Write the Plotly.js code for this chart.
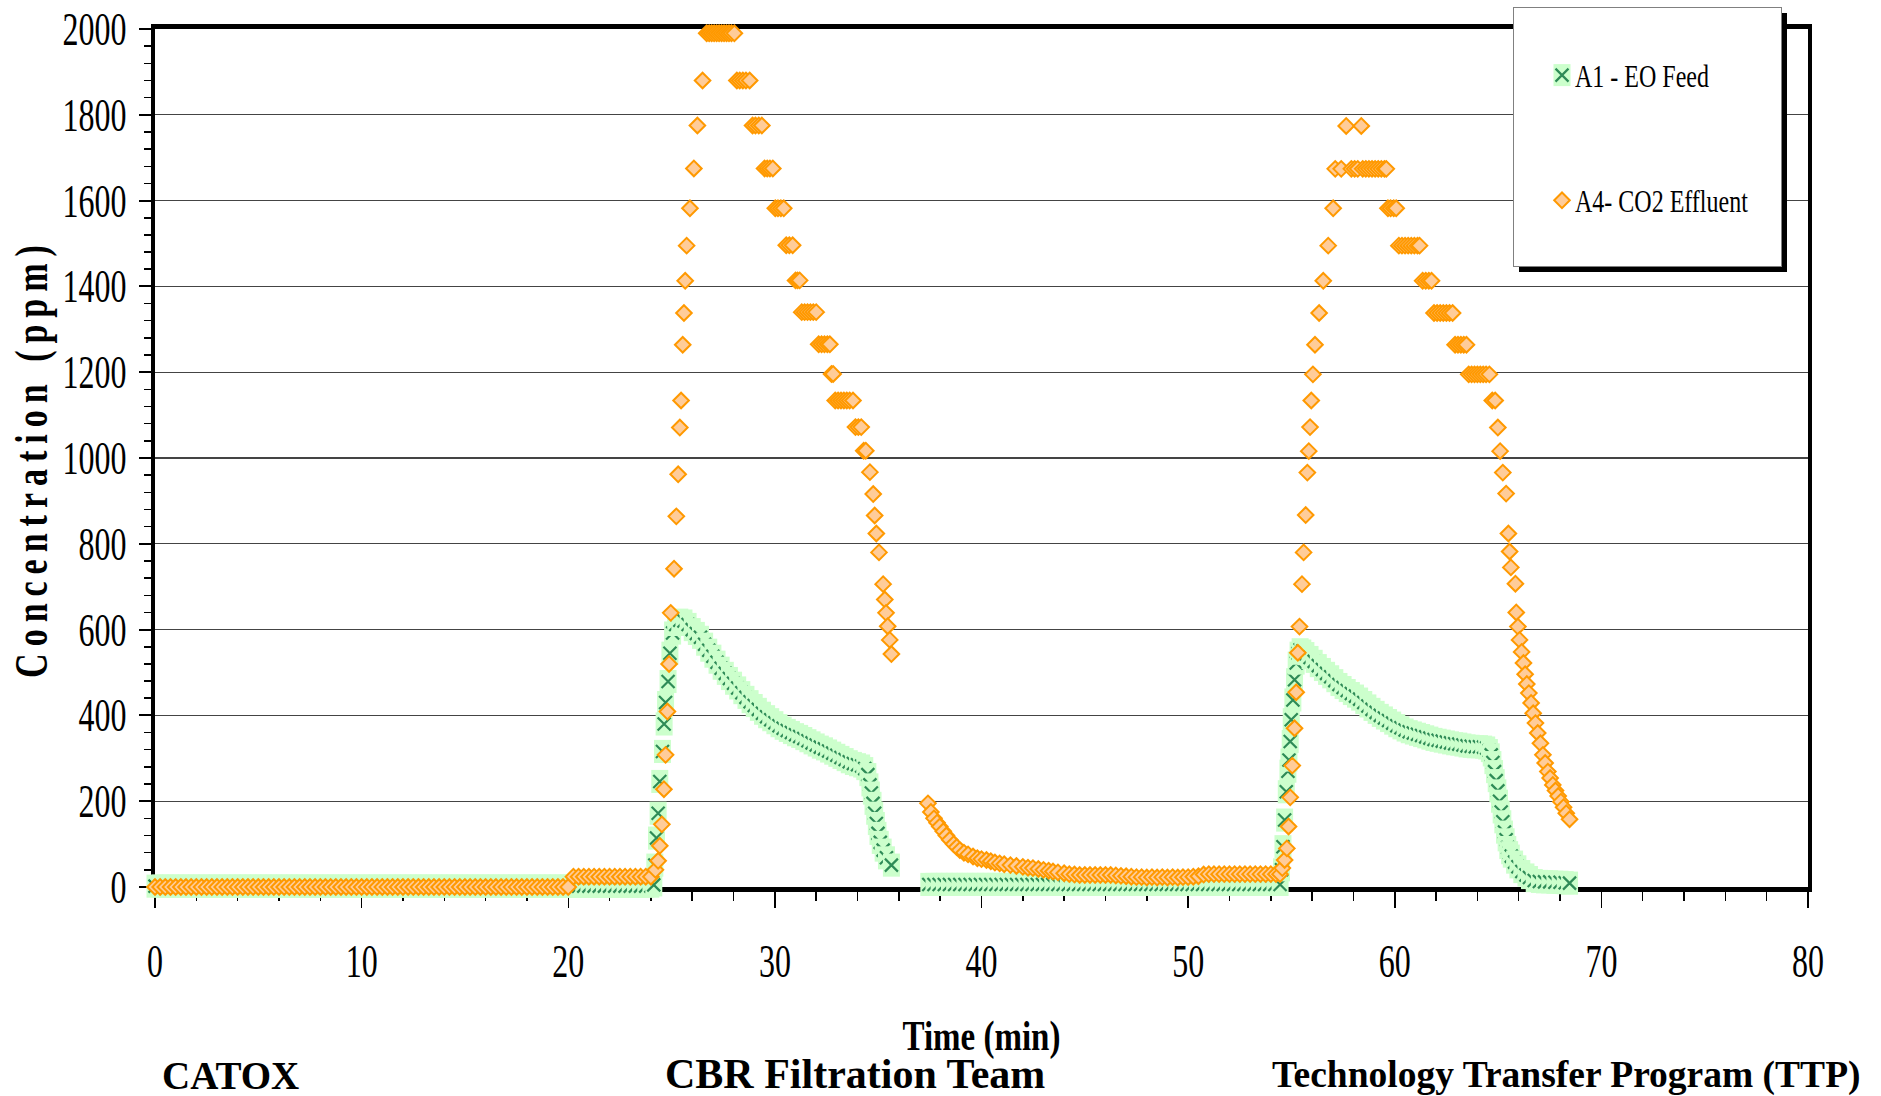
<!DOCTYPE html>
<html>
<head>
<meta charset="utf-8">
<script src="https://cdn.plot.ly/plotly-3.0.1.min.js"></script>
<style>
html,body{margin:0;padding:0;background:#fff;}
#chart{width:1881px;height:1096px;}
</style>
</head>
<body>
<div id="chart"></div>
<script>
// ---------------- DATA ----------------
const xTickVals = [0,10,20,30,40,50,60,70,80];
const xTickText = ['0','10','20','30','40','50','60','70','80'];
const yTickVals = [0,200,400,600,800,1000,1200,1400,1600,1800,2000];
const yTickText = ['0','200','400','600','800','1000','1200','1400','1600','1800','2000'];

// A1 - EO Feed
const a1BaseTime = [0,0.25,0.5,0.75,1,1.25,1.5,1.75,2,2.25,2.5,2.75,3,3.25,3.5,3.75,4,4.25,4.5,4.75,
 5,5.25,5.5,5.75,6,6.25,6.5,6.75,7,7.25,7.5,7.75,8,8.25,8.5,8.75,9,9.25,9.5,9.75,
 10,10.25,10.5,10.75,11,11.25,11.5,11.75,12,12.25,12.5,12.75,13,13.25,13.5,13.75,14,14.25,14.5,14.75,
 15,15.25,15.5,15.75,16,16.25,16.5,16.75,17,17.25,17.5,17.75,18,18.25,18.5,18.75,19,19.25,19.5,19.75,
 20,20.25,20.5,20.75,21,21.25,21.5,21.75,22,22.25,22.5,22.75,23,23.25,23.5,23.75,24];
const a1BasePpm = [2,2,2,2,2,2,2,2,2,2,2,2,2,2,2,2,2,2,2,2,
 2,2,2,2,2,2,2,2,2,2,2,2,2,2,2,2,2,2,2,2,
 2,2,2,2,2,2,2,2,2,2,2,2,2,2,2,2,2,2,2,2,
 2,2,2,2,2,2,2,2,2,2,2,2,2,2,2,2,2,2,2,2,
 2,2,2,2,2,2,2,2,2,2,2,2,2,2,2,2,2];
const a1Peak1Time = [24.14,24.19,24.27,24.35,24.43,24.56,24.64,24.71,24.83,24.92,25.05,
 25.20,25.40,25.60,25.80,26.00,26.20,26.40,26.60,26.80,27.00,
 27.20,27.40,27.60,27.80,28.00,28.20,28.40,28.60,28.80,29.00,
 29.20,29.40,29.60,29.80,30.00,30.20,30.40,30.60,30.80,31.00,
 31.20,31.40,31.60,31.80,32.00,32.20,32.40,32.60,32.80,33.00,
 33.20,33.40,33.60,33.80,34.00,34.20,34.35,
 34.50,34.60,34.67,34.75,34.83,34.91,34.99,35.10,35.24,35.40,35.64];
const a1Peak1Ppm = [5,51,114,172,246,316,380,430,479,545,592,
 612,622,620,612,600,591,582,566,552,538,
 524,510,498,486,475,464,453,442,432,423,
 414,405,397,390,383,376,370,365,360,355,
 351,346,341,336,331,326,322,317,312,307,
 302,297,292,288,285,282,276,
 262,238,219,195,172,148,125,104,86,68,51];
const a1MidTime = [37.45,37.7,37.95,38.2,38.45,38.7,38.95,39.2,39.45,39.7,39.95,40.2,40.45,40.7,40.95,41.2,41.45,41.7,41.95,42.2,
 42.45,42.7,42.95,43.2,43.45,43.7,43.95,44.2,44.45,44.7,44.95,45.2,45.45,45.7,45.95,46.2,46.45,46.7,46.95,47.2,
 47.45,47.7,47.95,48.2,48.45,48.7,48.95,49.2,49.45,49.7,49.95,50.2,50.45,50.7,50.95,51.2,51.45,51.7,51.95,52.2,
 52.45,52.7,52.95,53.2,53.45,53.7,53.95,54.2,54.45];
const a1MidPpm = [6,6,6,6,6,6,6,6,6,6,6,6,6,6,6,6,6,6,6,6,
 6,6,6,6,6,6,6,6,6,6,6,6,6,6,6,6,6,6,6,6,
 6,6,6,6,6,6,6,6,6,6,6,6,6,6,6,6,6,6,6,6,
 6,6,6,6,6,6,6,6,6];
const a1Peak2Time = [54.52,54.59,54.67,54.75,54.83,54.88,54.94,54.99,55.07,55.15,55.23,55.32,55.42,
 55.55,55.70,55.90,56.10,56.30,56.50,56.70,56.90,57.10,57.30,
 57.50,57.70,57.90,58.10,58.30,58.50,58.70,58.90,59.10,59.30,
 59.50,59.70,59.90,60.10,60.30,60.50,60.70,60.90,61.10,61.30,
 61.50,61.70,61.90,62.10,62.30,62.50,62.70,62.90,63.10,63.30,
 63.50,63.70,63.90,64.10,64.30,64.45,
 64.58,64.67,64.75,64.83,64.91,64.99,65.07,65.15,65.23,65.31,
 65.39,65.47,65.56,65.64,65.80,65.96,66.15,66.35,66.52,
 66.75,67.00,67.25,67.50,67.75,68.00,68.25,68.46];
const a1Peak2Ppm = [40,94,156,222,270,296,339,390,436,483,522,545,553,
 550,544,535,526,516,507,498,490,481,472,
 465,458,451,445,438,430,422,414,407,400,
 394,388,382,376,371,366,362,359,356,353,
 350,347,344,342,340,338,336,334,333,331,
 329,328,327,327,326,324,
 318,308,290,269,248,224,200,175,152,128,
 110,92,80,72,58,47,36,28,22,
 15,13,12,12,11,11,10,9];

// A4- CO2 Effluent
const a4BaseTime = [0,0.25,0.5,0.75,1,1.25,1.5,1.75,2,2.25,2.5,2.75,3,3.25,3.5,3.75,4,4.25,4.5,4.75,
 5,5.25,5.5,5.75,6,6.25,6.5,6.75,7,7.25,7.5,7.75,8,8.25,8.5,8.75,9,9.25,9.5,9.75,
 10,10.25,10.5,10.75,11,11.25,11.5,11.75,12,12.25,12.5,12.75,13,13.25,13.5,13.75,14,14.25,14.5,14.75,
 15,15.25,15.5,15.75,16,16.25,16.5,16.75,17,17.25,17.5,17.75,18,18.25,18.5,18.75,19,19.25,19.5,19.75,
 20];
const a4BasePpm = [0,0,0,0,0,0,0,0,0,0,0,0,0,0,0,0,0,0,0,0,
 0,0,0,0,0,0,0,0,0,0,0,0,0,0,0,0,0,0,0,0,
 0,0,0,0,0,0,0,0,0,0,0,0,0,0,0,0,0,0,0,0,
 0,0,0,0,0,0,0,0,0,0,0,0,0,0,0,0,0,0,0,0,
 0];
const a4PreTime = [20.25,20.5,20.75,21,21.25,21.5,21.75,22,22.25,22.5,22.75,23,23.25,23.5,23.75,24];
const a4PrePpm = [24,24,24,24,24,24,24,24,24,24,24,24,24,24,24,24];
const a4Peak1Time = [24.22,24.35,24.43,24.53,24.63,24.71,24.80,24.88,24.96,25.12,25.23,25.32,25.40,25.46,25.54,25.60,25.66,25.73,25.89,26.08,26.25,26.50,
 26.70,26.82,26.94,27.06,27.18,27.30,27.42,27.54,27.66,27.78,27.90,28.04,
 28.16,28.30,28.45,28.60,28.78,
 28.92,29.06,29.22,29.37,
 29.50,29.63,29.76,29.90,
 30.02,30.15,30.29,30.43,
 30.55,30.70,30.86,
 31.00,31.10,31.20,
 31.30,31.44,31.58,31.72,31.86,32.00,
 32.12,32.26,32.40,32.54,32.66,
 32.74,32.82,
 32.92,33.06,33.20,33.34,33.48,33.62,33.78,
 33.90,34.04,34.18,
 34.30,34.40,
 34.60,34.76,34.83,34.91,35.04,35.24,35.32,35.38,35.46,35.56,35.64];
const a4Peak1Ppm = [40,61,96,146,228,308,409,520,639,742,864,962,1071,1134,1264,1338,1413,1495,1582,1675,1775,1880,
 1990,1990,1990,1990,1990,1990,1990,1990,1990,1990,1990,1990,
 1880,1880,1880,1880,1880,
 1775,1775,1775,1775,
 1675,1675,1675,1675,
 1582,1582,1582,1582,
 1496,1496,1496,
 1414,1414,1414,
 1340,1340,1340,1340,1340,1340,
 1265,1265,1265,1265,1265,
 1196,1196,
 1134,1134,1134,1134,1134,1134,1134,
 1072,1072,1072,
 1017,1017,
 967,916,866,824,780,706,670,639,608,576,543];
const a4DecayTime = [37.41,37.55,37.70,37.85,37.98,38.15,38.30,38.46,38.65,38.80,38.95,39.15,39.35,39.59,39.80,40.00,
 40.24,40.45,40.65,40.88,41.10,41.40,41.69,42.00,42.25,42.49,42.75,43.00,43.25,43.46,43.70,44.00,
 44.25,44.50,44.75,45.00,45.25,45.50,45.75,46.00,46.25,46.50,
 46.75,47.00,47.25,47.50,47.75,48.00,48.25,48.50,48.75,49.00,49.25,49.50,49.75,50.00,50.25,50.50,
 50.75,51.00,51.25,51.50,51.75,52.00,52.25,52.50,52.75,53.00,53.25,53.50,53.75,54.00,54.25,54.45];
const a4DecayPpm = [195,175,160,150,141,130,120,110,100,93,86,80,76,71,67,65,
 63,60,57,55,53,51,49,47,45,44,42,40,38,36,34,32,
 30,29,28,28,28,28,28,28,28,27,
 26,25,24,23,23,22,23,22,23,22,23,22,23,23,24,25,
 29,30,30,30,30,30,30,30,30,30,30,30,30,30,30,30];
const a4Peak2Time = [54.56,54.67,54.78,54.86,54.94,55.04,55.15,55.23,55.31,55.39,55.51,55.59,55.69,55.77,55.84,55.90,55.96,56.04,56.14,56.34,56.54,56.78,57.02,
 57.12,57.41,57.65,57.90,58.06,58.21,58.38,58.45,58.60,58.75,58.90,59.05,59.20,59.35,59.50,59.59,
 59.67,59.80,59.95,60.07,
 60.20,60.35,60.50,60.65,60.80,60.95,61.10,61.20,
 61.35,61.50,61.65,61.78,
 61.90,62.05,62.20,62.35,62.50,62.65,62.80,
 62.92,63.06,63.20,63.34,63.47,
 63.58,63.72,63.86,64.00,64.14,64.28,64.42,64.58,
 64.72,64.86,
 64.99,65.10,65.23,65.39,65.50,65.56,65.62,65.84,65.88,65.96,
 66.04,66.14,66.23,66.31,66.39,66.49,66.60,66.70,66.81,66.92,
 67.05,67.17,67.28,67.41,67.52,67.65,67.78,67.91,68.04,68.17,
 68.30,68.46];
const a4Peak2Ppm = [44,63,90,141,209,283,370,454,546,607,706,780,867,966,1016,1072,1134,1195,1264,1338,1413,1495,1582,
 1674,1674,1774,1674,1674,1674,1774,1674,1674,1674,1674,1674,1674,1674,1674,1674,
 1582,1582,1582,1582,
 1495,1495,1495,1495,1495,1495,1495,1495,
 1413,1413,1413,1413,
 1338,1338,1338,1338,1338,1338,1338,
 1264,1264,1264,1264,1264,
 1195,1195,1195,1195,1195,1195,1195,1195,
 1134,1134,
 1071,1016,966,917,824,782,745,707,640,607,
 576,548,522,496,473,452,429,405,382,359,
 335,308,289,269,254,238,225,212,199,186,
 172,158];

const bottomLabels = ['CATOX', 'CBR Filtration Team', 'Technology Transfer Program (TTP)'];

// ---------------- BUILD ----------------
const a1Time = [].concat(a1BaseTime, a1Peak1Time, a1MidTime, a1Peak2Time);
const a1Ppm  = [].concat(a1BasePpm,  a1Peak1Ppm,  a1MidPpm,  a1Peak2Ppm);
const a4Time = [].concat(a4BaseTime, a4PreTime, a4Peak1Time, a4DecayTime, a4Peak2Time);
const a4Ppm  = [].concat(a4BasePpm,  a4PrePpm,  a4Peak1Ppm,  a4DecayPpm,  a4Peak2Ppm);

const GREEN_FILL = '#ccffcc', GREEN_X = '#2e8b57';
const ORANGE = '#ff9900', ORANGE_FILL = '#ffcc99';
const FONT = 'Liberation Serif';

const W = 1881, H = 1096;
const L = 155, R = 73, T = 29, B = 209;
const PW = W - L - R, PH = H - T - B;
const px2x = X => (X - L) / PW;
const px2y = Y => (H - B - Y) / PH;

const traces = [
  {type:'scatter', mode:'markers', x:a1Time, y:a1Ppm, name:'A1 - EO Feed', showlegend:false,
   cliponaxis:false, hoverinfo:'skip',
   marker:{symbol:'line-ns', size:16.5, color:GREEN_FILL, line:{width:17, color:GREEN_FILL}}},
  {type:'scatter', mode:'markers', x:a1Time, y:a1Ppm, name:'A1 - EO Feed', legendgroup:'a1',
   cliponaxis:false, hoverinfo:'skip',
   marker:{symbol:'x-thin', size:13, color:GREEN_X, line:{width:2.2, color:GREEN_X}}},
  {type:'scatter', mode:'markers', x:a4Time, y:a4Ppm, name:'A4- CO2 Effluent', legendgroup:'a4',
   cliponaxis:false, hoverinfo:'skip',
   marker:{symbol:'diamond', size:12, color:ORANGE_FILL, line:{width:2, color:ORANGE}}}
];

const bottomPos = [[230,1075,39],[855,1074,42],[1566,1075,37.5]];
const annotations = bottomLabels.map((t,i)=>({
  text:t, xref:'paper', yref:'paper', x:px2x(bottomPos[i][0]), y:px2y(bottomPos[i][1]),
  xanchor:'center', yanchor:'middle', showarrow:false,
  font:{family:FONT, size:bottomPos[i][2], weight:'bold', color:'#000'}
}));

const layout = {
  width:W, height:H,
  margin:{l:L, r:R, t:T, b:B, autoexpand:false},
  paper_bgcolor:'#ffffff', plot_bgcolor:'#ffffff',
  font:{family:FONT, color:'#000'},
  showlegend:true,
  legend:{x:px2x(1541), y:px2y(52), xanchor:'left', yanchor:'top',
          bgcolor:'#ffffff', bordercolor:'#808080', borderwidth:1,
          font:{family:FONT, size:24, color:'#000'}, tracegroupgap:91, itemwidth:30},
  xaxis:{range:[0,80], tickmode:'array', tickvals:xTickVals, ticktext:xTickText,
         ticks:'outside', ticklen:16, tickwidth:1.5, tickcolor:'#000',
         showline:true, linewidth:5, linecolor:'#000', mirror:true,
         showgrid:false, zeroline:false, layer:'below traces', automargin:false,
         tickfont:{family:FONT, size:32, color:'#000'}, ticklabelstandoff:26,
         minor:{dtick:2, ticks:'outside', ticklen:9, tickwidth:1.5, tickcolor:'#000', showgrid:false},
         title:{text:'Time (min)', font:{family:FONT, size:33, weight:'bold', color:'#000'}, standoff:47}},
  xaxis2:{overlaying:'x', anchor:'y', side:'bottom', range:[0,80], tickmode:'array', tickvals:xTickVals,
         ticks:'inside', ticklen:16, tickwidth:1.5, tickcolor:'#000', showticklabels:false,
         showline:false, showgrid:false, zeroline:false, layer:'below traces'},
  yaxis:{range:[0,2000], tickmode:'array', tickvals:yTickVals, ticktext:yTickText,
         ticks:'outside', ticklen:12, tickwidth:2, tickcolor:'#000',
         showline:true, linewidth:4, linecolor:'#000', mirror:true,
         showgrid:true, gridcolor:'#444444', gridwidth:1.3, zeroline:false,
         layer:'below traces', automargin:false,
         tickfont:{family:FONT, size:32, color:'#000'}, ticklabelstandoff:6,
         minor:{dtick:40, ticks:'outside', ticklen:7, tickwidth:1.5, tickcolor:'#000', showgrid:false},
         title:{text:'Concentration (ppm)', font:{family:FONT, size:34, weight:'bold', color:'#000'}, standoff:10}},
  annotations:annotations
};

function stretch(el, sy){
  const bb = el.getBBox();
  const cy = bb.y + bb.height/2;
  const t = el.getAttribute('transform') || '';
  el.setAttribute('transform', t + ' translate(0,' + cy + ') scale(1,' + sy + ') translate(0,' + (-cy) + ')');
}

Plotly.newPlot('chart', traces, layout, {staticPlot:true, displayModeBar:false}).then(gd => {
  // draw each green marker as light square + X together (interleave)
  const tr = gd.querySelectorAll('.scatterlayer .trace');
  if (tr.length >= 2) {
    const sq = tr[0].querySelectorAll('path.point');
    const xs = tr[1].querySelectorAll('path.point');
    const n = Math.min(sq.length, xs.length);
    for (let i = 0; i < n; i++) sq[i].after(xs[i]);
  }
  // tall, narrow serif text like the original
  gd.querySelectorAll('.xtick text, .ytick text').forEach(el => stretch(el, 1.43));
  gd.querySelectorAll('.legendtext').forEach(el => { el.setAttribute('x', 33); stretch(el, 1.3); });
  gd.querySelectorAll('.g-xtitle text').forEach(el => stretch(el, 1.25));
  const yt = gd.querySelector('.g-ytitle text');
  if (yt) { yt.style.letterSpacing = '7px'; stretch(yt, 1.35); }
  // legend box + shadow
  const leg = gd.querySelector('g.legend');
  if (leg) {
    const m = leg.transform.baseVal.consolidate();
    const e = m ? m.matrix.e : 0, f = m ? m.matrix.f : 0;
    const bg = leg.querySelector('rect.bg');
    if (bg) {
      bg.setAttribute('x', 1513 - e); bg.setAttribute('y', 7 - f);
      bg.setAttribute('width', 268); bg.setAttribute('height', 259);
      const sh = bg.cloneNode();
      sh.setAttribute('x', 1513 - e + 6); sh.setAttribute('y', 7 - f + 6);
      sh.setAttribute('style', 'fill:#000;stroke:none;');
      bg.parentNode.insertBefore(sh, bg);
    }
    const first = leg.querySelector('.traces .legendpoints');
    if (first) {
      const r = document.createElementNS('http://www.w3.org/2000/svg', 'rect');
      r.setAttribute('x', 20 - 8.5); r.setAttribute('y', -11);
      r.setAttribute('width', 17); r.setAttribute('height', 22);
      r.setAttribute('style', 'fill:' + GREEN_FILL + ';stroke:none;');
      first.insertBefore(r, first.firstChild);
    }
  }
});
</script>
</body>
</html>
